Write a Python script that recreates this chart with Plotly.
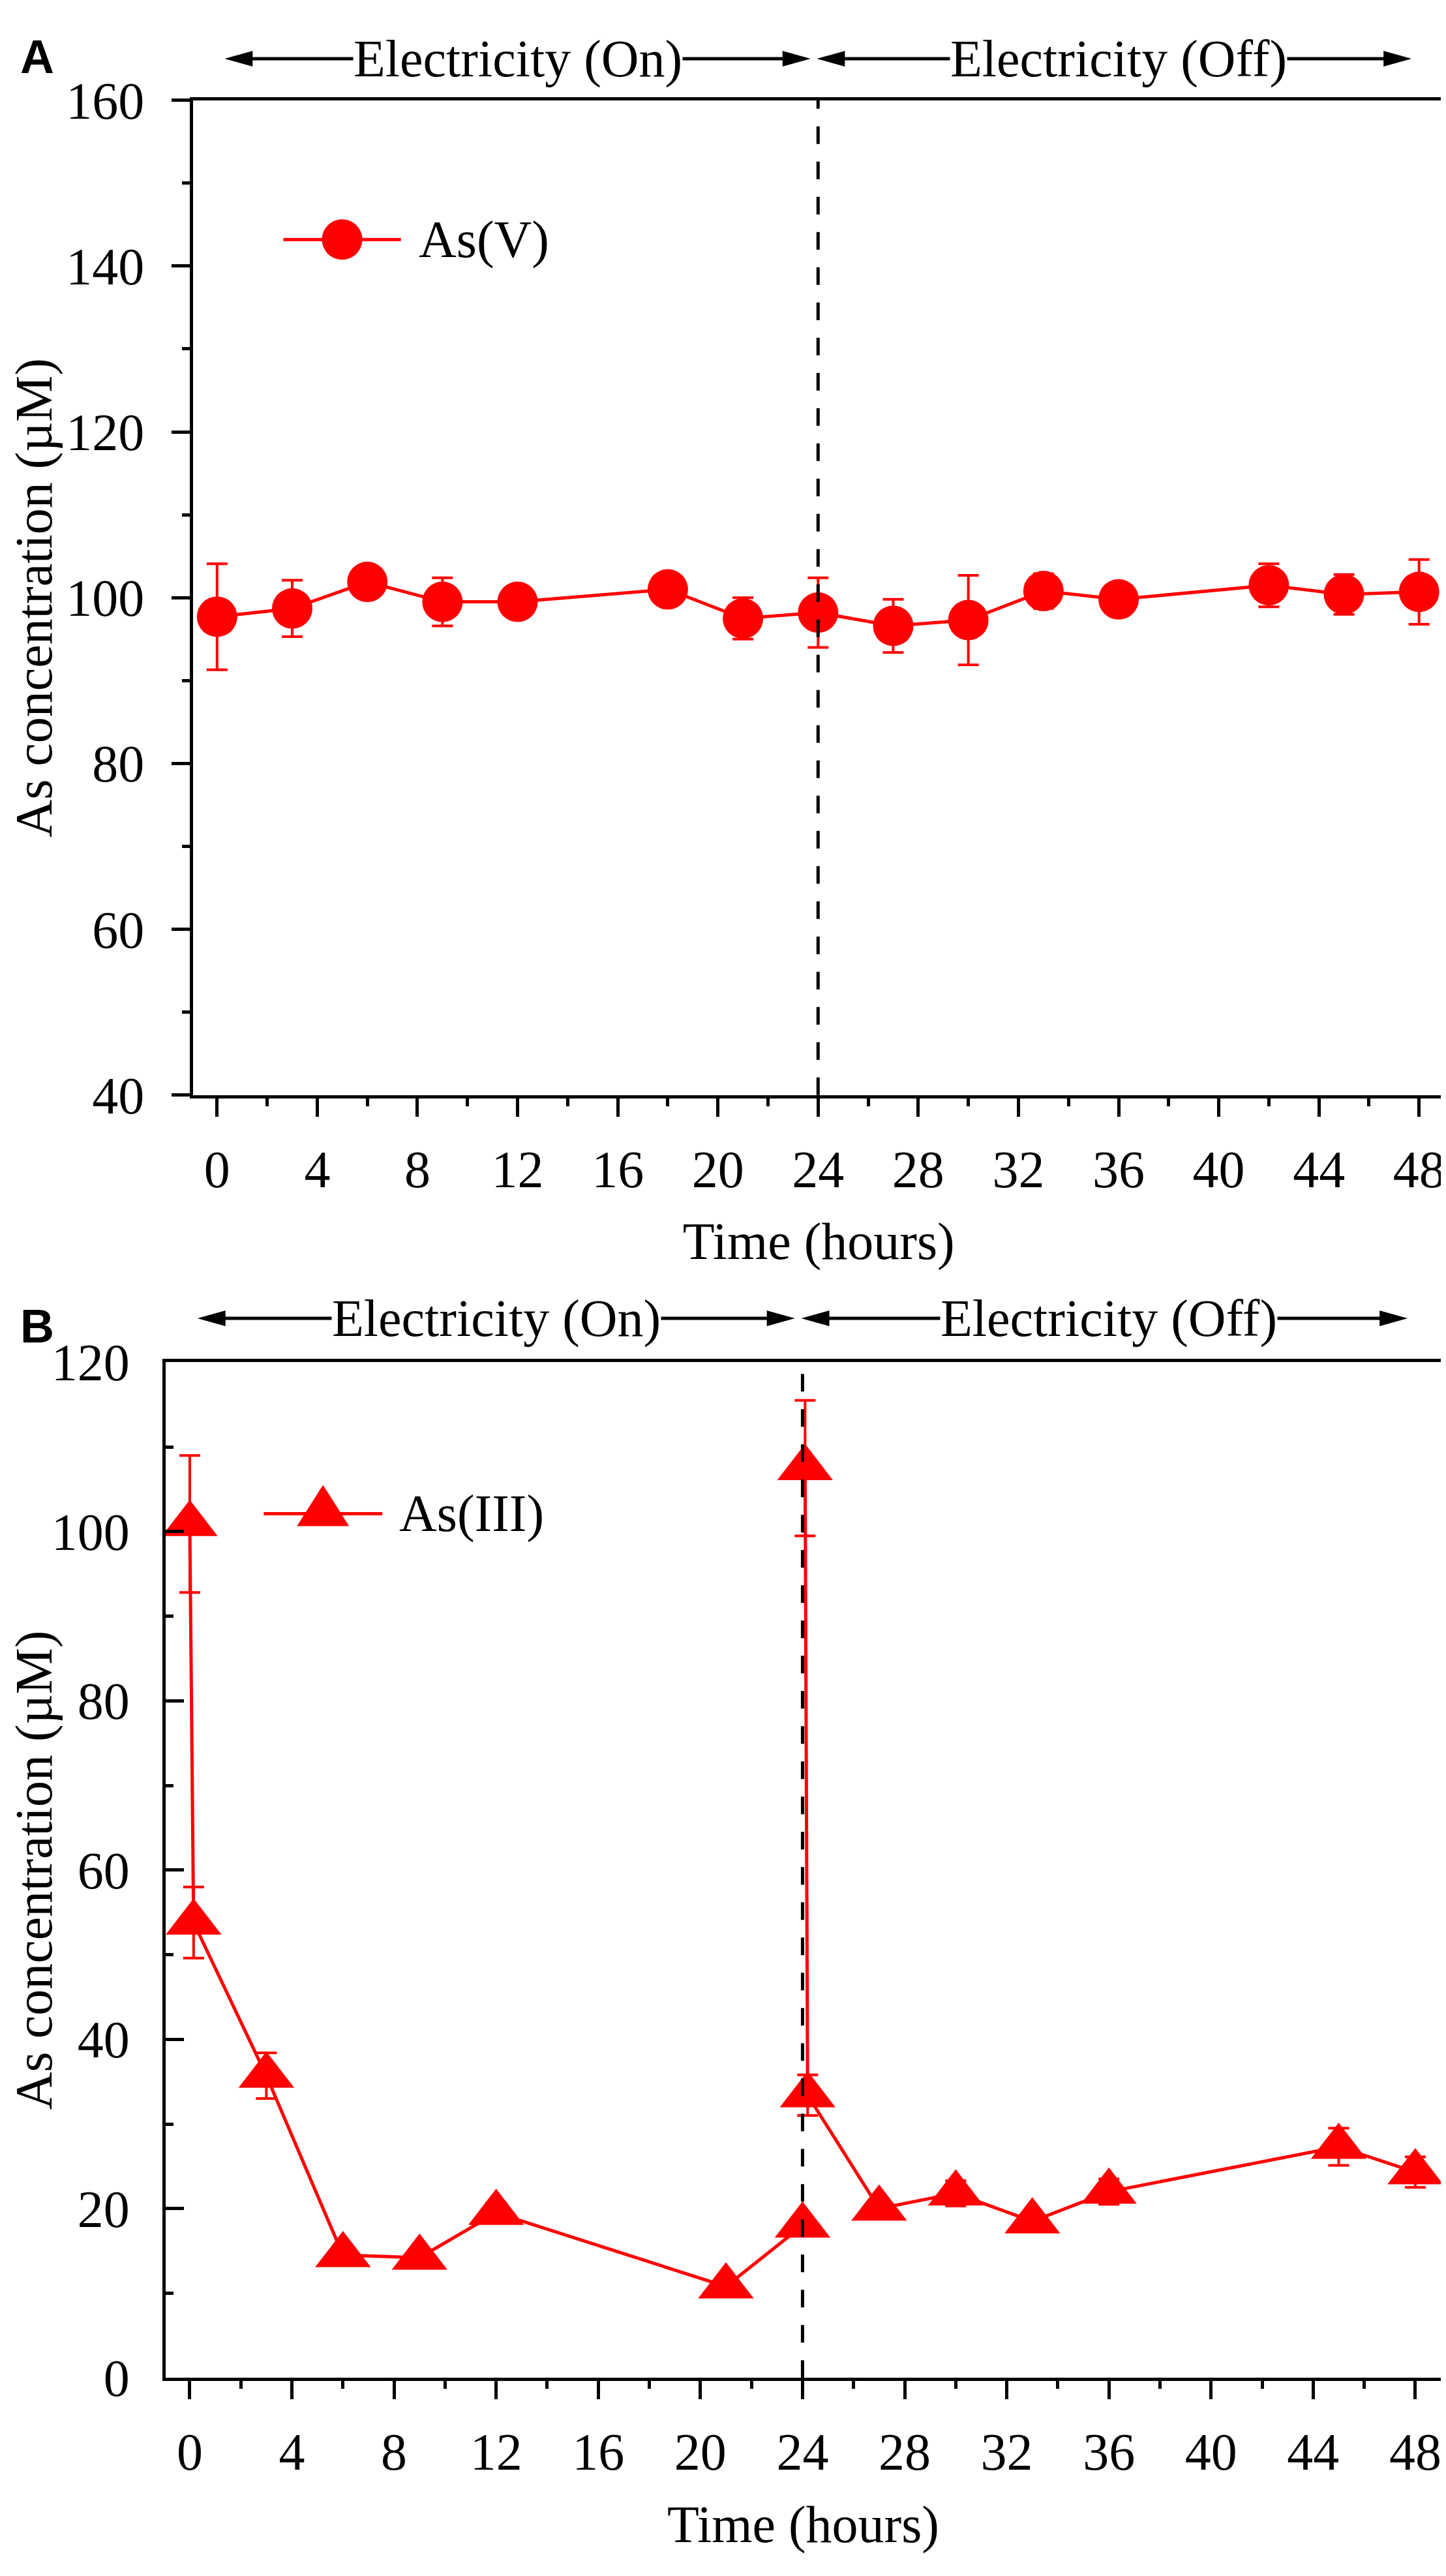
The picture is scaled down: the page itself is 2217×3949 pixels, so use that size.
import plotly.graph_objects as go

# --- data ---
# panel A : As(V)
time_a = [0, 3, 6, 9, 12, 18, 21, 24, 27, 30, 33, 36, 42, 45, 48]
asv = [97.7, 98.7, 101.9, 99.5, 99.5, 101.0, 97.5, 98.2, 96.6, 97.3, 100.8, 99.8, 101.5, 100.4, 100.7]
asv_err = [6.4, 3.4, 1.0, 2.9, 1.0, 1.0, 2.5, 4.2, 3.2, 5.4, 2.1, 1.0, 2.6, 2.4, 3.9]

# panel B : As(III)  (None = break in the line after the 24 h sample)
time_b = [0, 0.15, 3, 6, 9, 12, 21, 24, 24.05, 24.1, 24.2, 27, 30, 33, 36, 45, 48]
asiii = [100.9, 53.8, 35.7, 14.5, 14.2, 19.5, 10.8, 18.0, None, 107.5, 33.4, 20.0, 21.8, 18.5, 22.0, 27.3, 24.3]
asiii_err = [8.1, 4.2, 2.7, 0.8, 0.5, 1.2, 0.5, 0.8, None, 8.0, 2.4, 1.0, 1.5, 0.8, 1.5, 2.2, 1.8]

period_labels = ["Electricity (On)", "Electricity (Off)"]
period_centers = [12, 36]
period_spans = [(0.3, 23.7), (23.95, 47.7)]
switch_time = 24

x_title = "Time (hours)"
y_title = "As concentration (µM)"

# --- styling ---
W, H = 2217, 3949
RED = "#ff0000"
SERIF = "Liberation Serif, Times New Roman, serif"
FS = 80
x_range = [-0.95, 49.0]
dom_a = dict(x=[0.1218, 0.9955], y=[0.5784, 0.9734])
dom_b = dict(x=[0.1024, 0.9932], y=[0.0691, 0.4723])

fig = go.Figure()

fig.add_trace(go.Scatter(
    x=time_a, y=asv, mode="lines+markers", name="As(V)",
    line=dict(color=RED, width=5),
    marker=dict(symbol="circle", size=62, color=RED, line=dict(width=0)),
    error_y=dict(type="data", array=asv_err, color=RED, thickness=4, width=16),
    xaxis="x", yaxis="y", showlegend=False, cliponaxis=False,
))
fig.add_trace(go.Scatter(
    x=time_b, y=asiii, mode="lines+markers", name="As(III)",
    line=dict(color=RED, width=5),
    marker=dict(symbol="triangle-up", size=74, color=RED, line=dict(width=0)),
    error_y=dict(type="data", array=asiii_err, color=RED, thickness=4, width=16),
    xaxis="x2", yaxis="y2", showlegend=False, cliponaxis=False,
))


def x_axis(domain, anchor, standoff):
    return dict(
        domain=domain, anchor=anchor, range=x_range,
        tick0=0, dtick=4, ticks="outside", ticklen=28, tickwidth=5, tickcolor="black",
        minor=dict(tick0=0, dtick=2, ticks="outside", ticklen=12, tickwidth=5, tickcolor="black"),
        showline=True, linewidth=5, linecolor="black", mirror=True,
        showgrid=False, zeroline=False, ticklabelstandoff=12,
        tickfont=dict(family=SERIF, size=FS, color="black"),
        title=dict(text=x_title, font=dict(family=SERIF, size=FS, color="black"), standoff=standoff),
    )


def y_axis(domain, anchor, rng, ticks, lab_off):
    return dict(
        domain=domain, anchor=anchor, range=rng,
        tick0=0, dtick=20, ticks=ticks, ticklen=28, tickwidth=5, tickcolor="black",
        minor=dict(tick0=0, dtick=10, ticks=ticks, ticklen=12, tickwidth=5, tickcolor="black"),
        showline=True, linewidth=5, linecolor="black", mirror=True,
        showgrid=False, zeroline=False, ticklabelstandoff=lab_off,
        tickfont=dict(family=SERIF, size=FS, color="black"),
        title=dict(text=y_title, font=dict(family=SERIF, size=FS, color="black"), standoff=15),
    )


shapes = []
annotations = []


def frac(v):
    return (v - x_range[0]) / (x_range[1] - x_range[0])


def decorate(xn, yn, width_px, arrow_y, legend_y, leg_x, marker_kind, leg_text, panel, panel_y):
    xd, yd = xn + " domain", yn + " domain"
    # switch-off line
    shapes.append(dict(type="line", xref=xn, yref=yd, x0=switch_time, x1=switch_time, y0=0, y1=1,
                       line=dict(color="black", width=5, dash="27px,27px"), layer="above"))
    # period arrows + labels
    head = "M0,0 L{0},12 L{0},-12 Z"
    for lab, cx, (x0, x1) in zip(period_labels, period_centers, period_spans):
        shapes.append(dict(type="line", xref=xd, yref=yd,
                           x0=frac(x0) + 20 / width_px, x1=frac(x1) - 20 / width_px,
                           y0=arrow_y, y1=arrow_y, line=dict(color="black", width=5)))
        shapes.append(dict(type="path", xref=xd, yref=yd, xsizemode="pixel", ysizemode="pixel",
                           xanchor=frac(x0), yanchor=arrow_y, path=head.format(43),
                           fillcolor="black", line=dict(width=0)))
        shapes.append(dict(type="path", xref=xd, yref=yd, xsizemode="pixel", ysizemode="pixel",
                           xanchor=frac(x1), yanchor=arrow_y, path=head.format(-43),
                           fillcolor="black", line=dict(width=0)))
        annotations.append(dict(text=lab, xref=xn, yref=yd, x=cx, y=arrow_y, showarrow=False,
                                xanchor="center", yanchor="middle", bgcolor="white", borderpad=0,
                                font=dict(family=SERIF, size=FS, color="black")))
    # legend key
    lx0, lmid, lx1, ltx = leg_x
    shapes.append(dict(type="line", xref=xd, yref=yd, x0=lx0, x1=lx1, y0=legend_y, y1=legend_y,
                       line=dict(color=RED, width=5)))
    if marker_kind == "circle":
        shapes.append(dict(type="circle", xref=xd, yref=yd, xsizemode="pixel", ysizemode="pixel",
                           xanchor=lmid, yanchor=legend_y, x0=-31, x1=31, y0=-31, y1=31,
                           fillcolor=RED, line=dict(width=0)))
    else:
        shapes.append(dict(type="path", xref=xd, yref=yd, xsizemode="pixel", ysizemode="pixel",
                           xanchor=lmid, yanchor=legend_y, path="M-40,-19 L40,-19 L0,44 Z",
                           fillcolor=RED, line=dict(width=0)))
    annotations.append(dict(text=leg_text, xref=xd, yref=yd, x=ltx, y=legend_y, showarrow=False,
                            xanchor="left", yanchor="middle",
                            font=dict(family=SERIF, size=FS, color="black")))
    annotations.append(dict(text="<b>" + panel + "</b>", xref="paper", yref="paper", x=0.0, y=panel_y,
                            showarrow=False, xanchor="left", yanchor="middle",
                            font=dict(family="Liberation Sans, Arial, sans-serif", size=72, color="black")))


decorate("x", "y", 1937, 1.0417, 0.860, (0.072, 0.119, 0.166, 0.179), "circle", "As(V)", "A", 0.9906)
decorate("x2", "y2", 1975, 1.0433, 0.851, (0.077, 0.1235, 0.170, 0.182), "triangle", "As(III)", "B", 0.4867)

fig.update_layout(
    width=W, height=H,
    margin=dict(l=0, r=0, t=0, b=0),
    paper_bgcolor="white", plot_bgcolor="white",
    xaxis=x_axis(dom_a["x"], "y", 40),
    yaxis=y_axis(dom_a["y"], "x", [40, 160], "outside", 26),
    xaxis2=x_axis(dom_b["x"], "y2", 40),
    yaxis2=y_axis(dom_b["y"], "x2", [0, 120], "inside", 34),
    shapes=shapes,
    annotations=annotations,
    showlegend=False,
)

fig.write_html("out.html")
